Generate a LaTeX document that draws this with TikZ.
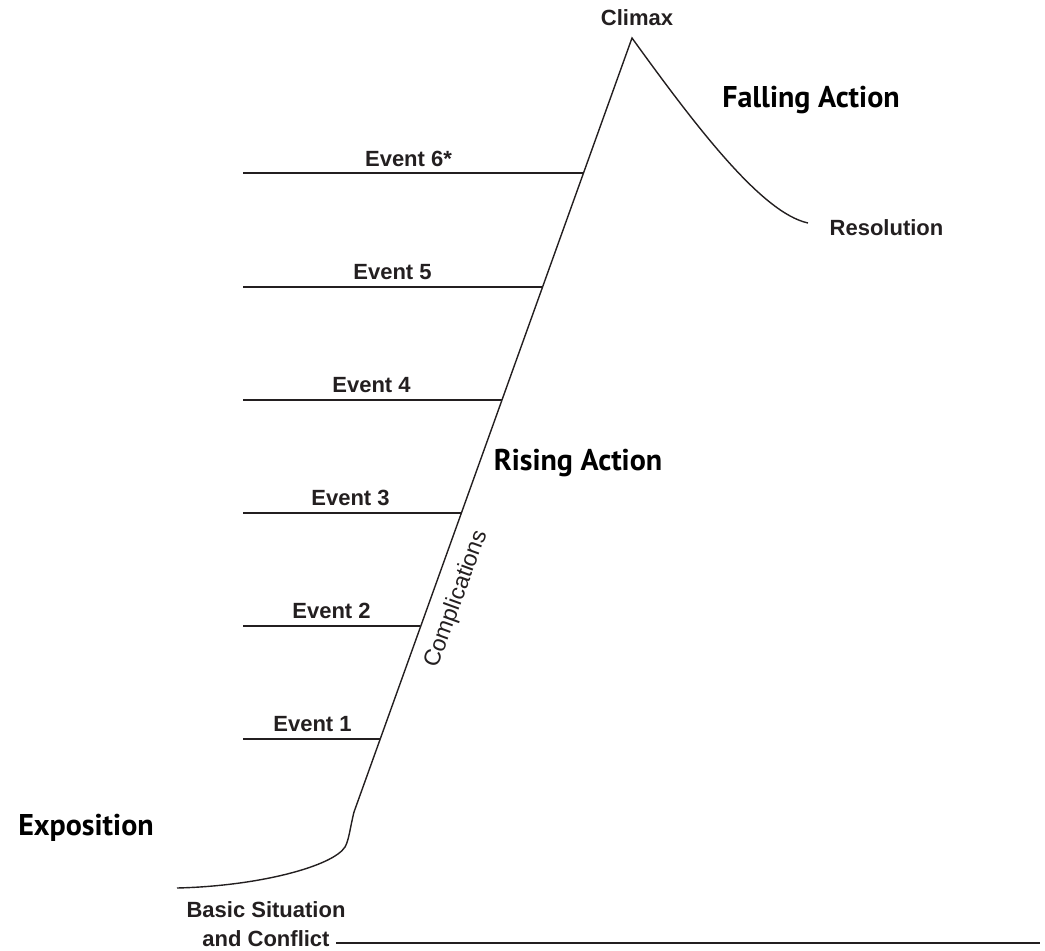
\documentclass[tikz,border=0pt]{standalone}
\usepackage{fontspec}
\setmainfont{Liberation Sans}
\newfontfamily\headfont{PT Sans}
\definecolor{ink}{HTML}{231F20}
\tikzset{
  plotline/.style={line width=1.4pt, draw=ink},
  eventline/.style={line width=2.3pt, draw=ink},
  eventlabel/.style={anchor=base, inner sep=0pt, text=ink, font=\bfseries\fontsize{22}{24}\selectfont},
  partlabel/.style={anchor=base, inner sep=0pt, font=\headfont\bfseries\fontsize{30}{32}\selectfont}
}
\begin{document}
\begin{tikzpicture}[x=1pt,y=-1pt]
\useasboundingbox (0,0) rectangle (1045,951);
\coordinate (peak) at (632,38);
\coordinate (foot) at (354,812);
\coordinate (bend) at (345,847);
\coordinate (start) at (177,888);
\coordinate (end) at (808,223);
\draw[plotline] (start) .. controls (260,886) and (333,866) .. (bend)
      .. controls (349,840) and (350,828) .. (foot) -- (peak)
      .. controls (697,128) and (762,213) .. (end);
\coordinate (e1) at (380,739);
\coordinate (e2) at (420.4,626);
\coordinate (e3) at (461,513);
\coordinate (e4) at (501.5,400);
\coordinate (e5) at (542,287);
\coordinate (e6) at (583,173);
\draw[eventline] (243,739) -- (e1);
\draw[eventline] (243,626) -- (e2);
\draw[eventline] (243,513) -- (e3);
\draw[eventline] (243,400) -- (e4);
\draw[eventline] (243,287) -- (e5);
\draw[eventline] (243,173) -- (e6);
\node[eventlabel] (ev1) at (312.5,731) {Event 1};
\node[eventlabel] (ev2) at (331.5,618) {Event 2};
\node[eventlabel] (ev3) at (350.5,505) {Event 3};
\node[eventlabel] (ev4) at (371.5,392) {Event 4};
\node[eventlabel] (ev5) at (392.5,279) {Event 5};
\node[eventlabel] (ev6) at (408.5,166) {Event 6*};
\node[eventlabel] (climax) at (637,25) {Climax};
\node[eventlabel] (resolution) at (886.5,235) {Resolution};
\node[eventlabel] (basic) at (266,917) {Basic Situation};
\node[eventlabel] (conflict) at (266,946) {and Conflict};
\draw[plotline] (336,943) -- (1040,943);
\node[inner sep=0pt, text=ink, rotate=70, font=\fontsize{23}{25}\selectfont] (compl) at (457,599) {Complications};
\node[partlabel] (falling) at (811,107) {Falling Action};
\node[partlabel] (rising) at (578,470) {Rising Action};
\node[partlabel] (expo) at (86,835) {Exposition};
\end{tikzpicture}
\end{document}
